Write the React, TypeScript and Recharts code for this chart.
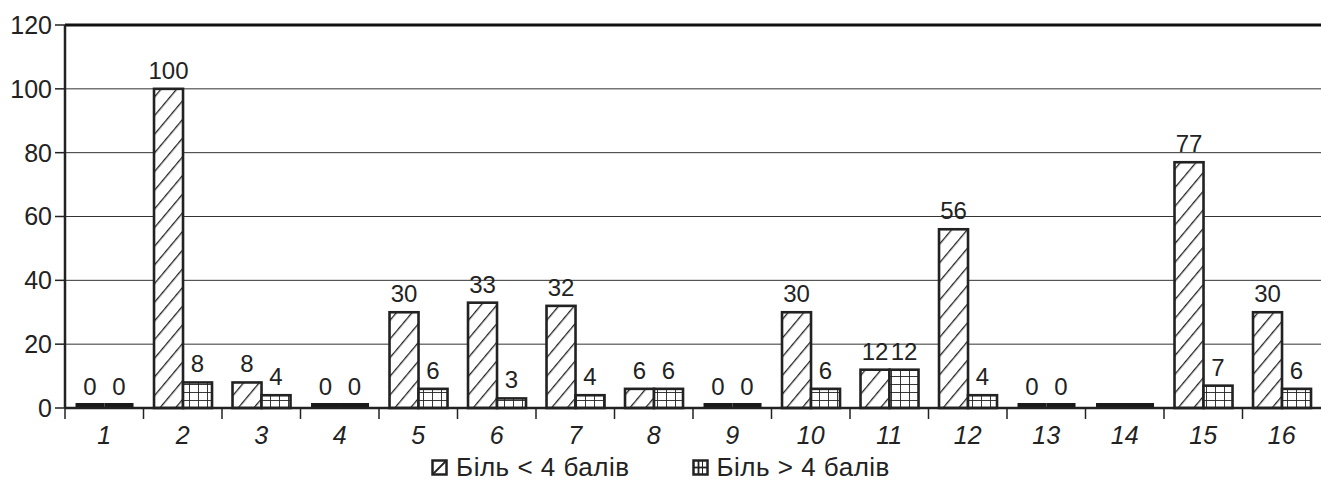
import React from "react";
import {
    BarChart,
    Bar,
    XAxis,
    YAxis,
    CartesianGrid,
    LabelList,
    Legend,
    ReferenceLine
} from "recharts";

// values
const categories = ["1", "2", "3", "4", "5", "6", "7", "8", "9", "10", "11", "12", "13", "14", "15", "16"];
const lessThan4 = [0, 100, 8, 0, 30, 33, 32, 6, 0, 30, 12, 56, 0, 0, 77, 30];
const moreThan4 = [0, 8, 4, 0, 6, 3, 4, 6, 0, 6, 12, 4, 0, 0, 7, 6];
const unlabeled = ["14"]; // category 14 has bars but no value labels
const yTicks = [0, 20, 40, 60, 80, 100, 120];
const seriesNames = ["Біль < 4 балів", "Біль > 4 балів"];

const WIDTH = 1321;
const HEIGHT = 487;
const Y_AXIS_W = 65;
const BAND = (WIDTH - Y_AXIS_W) / categories.length;
const INK = "#222";
const FONT = "'Liberation Sans', Arial, sans-serif";
const FS = 25;

const data = categories.map((c, i) => ({
    cat: c,
    less: lessThan4[i],
    more: moreThan4[i]
}));

const makeShape = (key: "less" | "more") => (props: any) => {
    const { x, y, width, height, fill, payload } = props;
    if (payload && payload[key] === 0) {
        // zero values are drawn as a thin black strip on the axis
        return <rect x={x} y={y + height - 5} width={width} height={5} fill="#1a1a1a" />;
    }
    return (
        <rect x={x} y={y} width={width} height={height} fill={fill} stroke={INK} strokeWidth={2.6} />
    );
};

const ValueLabel = (props: any) => {
    const { x, y, width, value, index } = props;
    if (unlabeled.includes(categories[index])) return null;
    return (
        <text x={x + width / 2} y={y - 10} textAnchor="middle" fontSize={24} fill={INK} fontFamily={FONT}>
            {value}
        </text>
    );
};

const XTick = (props: any) => {
    const { x, y, payload } = props;
    const left = x - BAND / 2;
    return (
        <g>
            <line x1={left} x2={left} y1={y} y2={y + 11} stroke={INK} strokeWidth={1.5} />
            <text x={x} y={y + 36} textAnchor="middle" fontSize={FS} fontStyle="italic" fill={INK} fontFamily={FONT}>
                {payload.value}
            </text>
        </g>
    );
};

const LegendContent = () => (
    <div
        style={{
            display: "flex",
            justifyContent: "center",
            alignItems: "center",
            height: 39,
            gap: 62,
            fontFamily: FONT,
            fontSize: 26,
            color: INK
        }}
    >
        <div style={{ display: "flex", alignItems: "center", gap: 8 }}>
            <svg width={17} height={17}>
                <rect x={1.5} y={1.5} width={14} height={14} fill="#fff" stroke={INK} strokeWidth={2.5} />
                <line x1={2} y1={15} x2={15} y2={2} stroke={INK} strokeWidth={1.8} />
            </svg>
            <span style={{ letterSpacing: 0.5 }}>{seriesNames[0]}</span>
        </div>
        <div style={{ display: "flex", alignItems: "center", gap: 8 }}>
            <svg width={17} height={17}>
                <rect x={1.5} y={1.5} width={14} height={14} fill="#fff" stroke={INK} strokeWidth={2.5} />
                <line x1={6.5} y1={1} x2={6.5} y2={16} stroke={INK} strokeWidth={1.8} />
                <line x1={10.5} y1={1} x2={10.5} y2={16} stroke={INK} strokeWidth={1} />
                <line x1={1} y1={8.5} x2={16} y2={8.5} stroke={INK} strokeWidth={1.8} />
            </svg>
            <span style={{ letterSpacing: 0.5 }}>{seriesNames[1]}</span>
        </div>
    </div>
);

export default function App() {
    return (
        <div style={{ position: "absolute", left: 0, top: 0, width: WIDTH, height: HEIGHT, background: "#fff", fontFamily: FONT }}>
            <BarChart
                width={WIDTH}
                height={HEIGHT}
                data={data}
                margin={{ top: 25, right: 0, bottom: 0, left: 0 }}
                barCategoryGap="13.4%"
                barGap={0}
            >
                <defs>
                    <pattern id="hatch" patternUnits="userSpaceOnUse" width={12} height={12} patternTransform="rotate(40)">
                        <rect width={12} height={12} fill="#fff" />
                        <line x1={0} y1={0} x2={0} y2={12} stroke={INK} strokeWidth={2.6} />
                    </pattern>
                    <pattern id="grid" patternUnits="userSpaceOnUse" width={9} height={8}>
                        <rect width={9} height={8} fill="#fff" />
                        <line x1={0} y1={0} x2={0} y2={8} stroke={INK} strokeWidth={1.8} />
                        <line x1={0} y1={0} x2={9} y2={0} stroke={INK} strokeWidth={1.8} />
                    </pattern>
                </defs>
                <CartesianGrid vertical={false} stroke="#333" strokeWidth={1} />
                <ReferenceLine y={120} stroke="#111" strokeWidth={3} />
                <XAxis
                    dataKey="cat"
                    height={40}
                    tickSize={0}
                    tickMargin={0}
                    tickLine={false}
                    axisLine={{ stroke: INK, strokeWidth: 2.5 }}
                    tick={<XTick />}
                    interval={0}
                />
                <YAxis
                    width={Y_AXIS_W}
                    domain={[0, 120]}
                    ticks={yTicks}
                    tickSize={10}
                    tickMargin={3}
                    tick={{ fill: INK, fontSize: FS, fontFamily: FONT }}
                    tickLine={{ stroke: INK, strokeWidth: 1.5 }}
                    axisLine={{ stroke: INK, strokeWidth: 2.5 }}
                />
                <Legend verticalAlign="bottom" height={39} content={() => <LegendContent />} />
                <Bar dataKey="less" name={seriesNames[0]} fill="url(#hatch)" minPointSize={3} shape={makeShape("less")} isAnimationActive={false}>
                    <LabelList dataKey="less" content={<ValueLabel />} />
                </Bar>
                <Bar dataKey="more" name={seriesNames[1]} fill="url(#grid)" minPointSize={3} shape={makeShape("more")} isAnimationActive={false}>
                    <LabelList dataKey="more" content={<ValueLabel />} />
                </Bar>
            </BarChart>
        </div>
    );
}
